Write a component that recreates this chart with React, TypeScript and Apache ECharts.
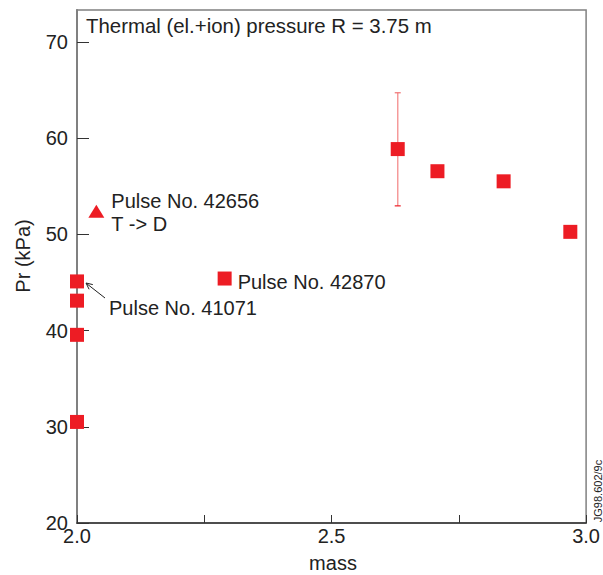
import React, { useEffect, useRef } from "react";
import * as echarts from "echarts";

const massSquares = [2.0, 2.0, 2.0, 2.0, 2.29, 2.63, 2.708, 2.838, 2.969];
const prSquares = [30.5, 39.55, 43.1, 45.1, 45.4, 58.85, 56.55, 55.5, 50.25];
const massTriangle = [2.038];
const prTriangle = [52.4];
const errMass = [2.63];
const errLow = [52.95];
const errHigh = [64.7];
const xTicks = [2.0, 2.5, 3.0];
const yTicks = [20, 30, 40, 50, 60, 70];

const FONT = "'Liberation Sans', Arial, Helvetica, sans-serif";
const RED = "#ed1c24";

export default function App() {
  const ref = useRef<HTMLDivElement>(null);
  useEffect(() => {
    if (!ref.current) return;
    const chart = echarts.init(ref.current, undefined, { renderer: "svg" });
    const sq = massSquares.map((m, i) => [m, prSquares[i]]);
    const pulse42870Idx = 4;
    chart.setOption({
      animation: false,
      textStyle: { fontFamily: FONT },
      grid: {
        left: 77,
        top: 10,
        right: 13,
        bottom: 52,
        show: true,
        borderColor: "#808080",
        borderWidth: 1.5,
      },
      xAxis: {
        type: "value",
        min: 2.0,
        max: 3.0,
        interval: 0.25,
        axisLine: { show: true, lineStyle: { color: "#333", width: 1.5 } },
        axisTick: { show: true, inside: true, length: 8, lineStyle: { color: "#333", width: 1 } },
        axisLabel: {
          margin: 3,
          fontSize: 20,
          color: "#222",
          fontFamily: FONT,
          formatter: (v: number) =>
            xTicks.some((t) => Math.abs(t - v) < 1e-6) ? v.toFixed(1) : "",
        },
        splitLine: { show: false },
      },
      yAxis: {
        type: "value",
        min: 20,
        max: 73.3,
        interval: 10,
        axisLine: { show: true, lineStyle: { color: "#808080", width: 2 } },
        axisTick: { show: true, inside: true, length: 12, lineStyle: { color: "#333", width: 1 } },
        axisLabel: {
          margin: 9,
          fontSize: 20,
          color: "#222",
          fontFamily: FONT,
          showMaxLabel: false,
          formatter: (v: number) =>
            yTicks.some((t) => Math.abs(t - v) < 1e-6) ? String(v) : "",
        },
        splitLine: { show: false },
      },
      series: [
        {
          type: "custom",
          clip: false,
          data: errMass.map((m, i) => [m, errLow[i], errHigh[i]]),
          renderItem: (params: any, api: any) => {
            const lo = api.coord([api.value(0), api.value(1)]);
            const hi = api.coord([api.value(0), api.value(2)]);
            const cap = 3;
            return {
              type: "group",
              children: [
                {
                  type: "line",
                  shape: { x1: lo[0], y1: lo[1], x2: hi[0], y2: hi[1] },
                  style: { stroke: "#f59a9a", lineWidth: 1.5 },
                },
                {
                  type: "line",
                  shape: { x1: lo[0] - cap, y1: lo[1], x2: lo[0] + cap, y2: lo[1] },
                  style: { stroke: RED, lineWidth: 1.2 },
                },
                {
                  type: "line",
                  shape: { x1: hi[0] - cap, y1: hi[1], x2: hi[0] + cap, y2: hi[1] },
                  style: { stroke: "#f07070", lineWidth: 1.2 },
                },
              ],
            };
          },
        },
        {
          type: "scatter",
          clip: false,
          symbol: "rect",
          symbolSize: 14,
          itemStyle: { color: RED, opacity: 1 },
          data: sq.map((d, i) =>
            i === pulse42870Idx
              ? {
                  value: d,
                  label: {
                    show: true,
                    position: "right",
                    distance: 6,
                    offset: [0, 3],
                    formatter: "Pulse No. 42870",
                    fontSize: 20,
                    color: "#222",
                    fontFamily: FONT,
                  },
                }
              : { value: d }
          ),
        },
        {
          type: "scatter",
          clip: false,
          symbol: "triangle",
          symbolSize: [16, 13],
          itemStyle: { color: RED, opacity: 1 },
          label: {
            show: true,
            position: "right",
            distance: 7,
            offset: [0, 1],
            formatter: "Pulse No. 42656\nT -> D",
            fontSize: 20,
            lineHeight: 23,
            color: "#222",
            fontFamily: FONT,
          },
          data: massTriangle.map((m, i) => [m, prTriangle[i]]),
        },
      ],
      graphic: [
        {
          type: "text",
          left: 86,
          top: 16,
          style: {
            text: "Thermal (el.+ion) pressure R = 3.75 m",
            fontSize: 20.4,
            fill: "#222",
            fontFamily: FONT,
          },
        },
        {
          type: "text",
          x: 109,
          y: 308,
          style: {
            text: "Pulse No. 41071",
            fontSize: 20,
            fill: "#222",
            fontFamily: FONT,
            verticalAlign: "middle",
          },
        },
        {
          type: "line",
          shape: { x1: 105, y1: 298, x2: 86.5, y2: 283.5 },
          style: { stroke: "#222", lineWidth: 1 },
        },
        {
          type: "polyline",
          shape: { points: [[89.1, 289.3], [86, 283], [92.8, 284.6]] },
          style: { stroke: "#222", lineWidth: 1, fill: null },
        },
        {
          type: "text",
          x: 333,
          y: 563,
          style: {
            text: "mass",
            fontSize: 20,
            fill: "#222",
            fontFamily: FONT,
            align: "center",
            verticalAlign: "middle",
          },
        },
        {
          type: "text",
          x: 23,
          y: 256,
          rotation: Math.PI / 2,
          style: {
            text: "Pr (kPa)",
            fontSize: 20,
            fill: "#222",
            fontFamily: FONT,
            align: "center",
            verticalAlign: "middle",
          },
        },
        {
          type: "text",
          x: 598,
          y: 491,
          rotation: Math.PI / 2,
          style: {
            text: "JG98.602/9c",
            fontSize: 11,
            fill: "#222",
            fontFamily: FONT,
            align: "center",
            verticalAlign: "middle",
          },
        },
      ],
    });
    return () => chart.dispose();
  }, []);
  return (
    <div
      ref={ref}
      style={{ position: "absolute", left: 0, top: 0, width: 603, height: 575 }}
    />
  );
}
